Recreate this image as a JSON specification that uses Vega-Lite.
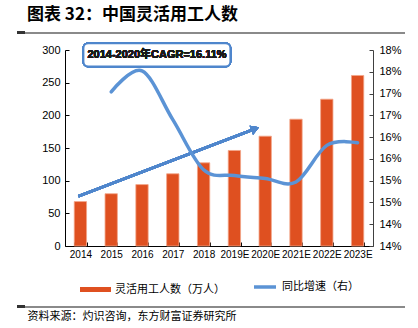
{
  "$schema": "https://vega.github.io/schema/vega-lite/v6.json",
  "width": 308,
  "height": 196,
  "autosize": {"type": "none"},
  "padding": {"left": 65, "top": 50, "right": 45, "bottom": 82},
  "background": "#ffffff",
  "config": {"view": {"stroke": null}, "font": "Liberation Sans", "axis": {"grid": false}},
  "title": {
    "text": "图表 32：中国灵活用工人数",
    "anchor": "start",
    "frame": "group",
    "dx": -38,
    "offset": 8,
    "font": "Noto Sans CJK SC",
    "fontSize": 17,
    "fontWeight": "bold",
    "color": "#000000"
  },
  "data": {
    "values": [
      {"year": "2014", "workers": 68, "growth": null},
      {"year": "2015", "workers": 80, "growth": 17.04},
      {"year": "2016", "workers": 94, "growth": 17.52},
      {"year": "2017", "workers": 110.5, "growth": 16.4},
      {"year": "2018", "workers": 127.3, "growth": 15.25},
      {"year": "2019E", "workers": 146.2, "growth": 15.12},
      {"year": "2020E", "workers": 168.1, "growth": 15.05},
      {"year": "2021E", "workers": 194.1, "growth": 14.97},
      {"year": "2022E", "workers": 224.7, "growth": 15.81},
      {"year": "2023E", "workers": 261, "growth": 15.87}
    ]
  },
  "layer": [
    {
      "layer": [
        {
          "mark": {"type": "bar", "stroke": "#F3A588", "strokeWidth": 0.8},
          "encoding": {
            "x": {
              "field": "year",
              "type": "nominal",
              "sort": null,
              "scale": {"paddingInner": 0.6, "paddingOuter": 0.3},
              "axis": {
                "title": "资料来源：灼识咨询，东方财富证券研究所",
                "titleFont": "Noto Sans CJK SC",
                "titleFontSize": 11,
                "titleFontWeight": "normal",
                "titleColor": "#000000",
                "titleAnchor": "start",
                "titleAlign": "left",
                "titleBaseline": "middle",
                "titleX": -38,
                "titleY": 70,
                "labelAngle": 0,
                "labelFontSize": 10,
                "labelColor": "#000000",
                "labelPadding": 7,
                "tickBand": "extent",
                "tickSize": -4,
                "tickColor": "#000000",
                "domainColor": "#000000"
              }
            },
            "y": {
              "field": "workers",
              "type": "quantitative",
              "scale": {"domain": [0, 300], "nice": false},
              "axis": {
                "title": null,
                "values": [0, 50, 100, 150, 200, 250, 300],
                "tickCount": 7,
                "labelFontSize": 11,
                "labelColor": "#000000",
                "labelPadding": 9,
                "tickSize": -4,
                "tickColor": "#000000",
                "domainColor": "#000000"
              }
            },
            "fill": {
              "datum": "灵活用工人数（万人）",
              "type": "nominal",
              "scale": {"range": ["#DF5020"]},
              "legend": {
                "orient": "none",
                "legendX": 15,
                "legendY": 224,
                "direction": "horizontal",
                "title": null,
                "padding": 0,
                "symbolType": "M-1,-0.16H1V0.16H-1Z",
                "symbolSize": 961,
                "symbolStrokeWidth": 0,
                "symbolOpacity": 1,
                "labelFont": "Noto Sans CJK SC",
                "labelFontSize": 11,
                "labelColor": "#000000",
                "labelOffset": 4
              }
            }
          }
        },
        {
          "mark": {"type": "rule", "color": "#8a8a8a", "strokeWidth": 1.3, "xOffset": -63.4, "x2Offset": 47.4},
          "encoding": {
            "x": {"datum": "2014", "type": "nominal"},
            "x2": {"datum": "2023E"},
            "y": {"datum": 326, "type": "quantitative", "axis": {"title": null, "values": [0, 50, 100, 150, 200, 250, 300]}},
            "y2": {"datum": 326}
          }
        },
        {
          "mark": {"type": "rule", "color": "#333333", "strokeWidth": 2, "xOffset": -63.4, "x2Offset": -55.4},
          "encoding": {
            "x": {"datum": "2014", "type": "nominal"},
            "x2": {"datum": "2014"},
            "y": {"datum": 326.5, "type": "quantitative", "axis": {"title": null, "values": [0, 50, 100, 150, 200, 250, 300]}},
            "y2": {"datum": 326.5}
          }
        },
        {
          "mark": {"type": "rule", "color": "#8a8a8a", "strokeWidth": 1.3, "xOffset": -63.4, "x2Offset": 47.4},
          "encoding": {
            "x": {"datum": "2014", "type": "nominal"},
            "x2": {"datum": "2023E"},
            "y": {"datum": -93, "type": "quantitative", "axis": {"title": null, "values": [0, 50, 100, 150, 200, 250, 300]}},
            "y2": {"datum": -93}
          }
        },
        {
          "mark": {"type": "rule", "color": "#333333", "strokeWidth": 2, "xOffset": -63.4, "x2Offset": -55.4},
          "encoding": {
            "x": {"datum": "2014", "type": "nominal"},
            "x2": {"datum": "2014"},
            "y": {"datum": -92.5, "type": "quantitative", "axis": {"title": null, "values": [0, 50, 100, 150, 200, 250, 300]}},
            "y2": {"datum": -92.5}
          }
        },
        {
          "mark": {"type": "rule", "color": "#4F86CC", "strokeWidth": 2.5, "xOffset": -2, "x2Offset": -10.6},
          "encoding": {
            "x": {"datum": "2014", "type": "nominal"},
            "x2": {"datum": "2020E"},
            "y": {"datum": 76.2, "type": "quantitative", "axis": {"title": null, "values": [0, 50, 100, 150, 200, 250, 300]}},
            "y2": {"datum": 179.1}
          }
        },
        {
          "mark": {"type": "point", "shape": "triangle-right", "filled": true, "color": "#4F86CC", "size": 90, "angle": -21, "opacity": 1, "xOffset": -10},
          "encoding": {
            "x": {"datum": "2020E", "type": "nominal"},
            "y": {"datum": 179.4, "type": "quantitative", "axis": {"title": null, "values": [0, 50, 100, 150, 200, 250, 300]}}
          }
        },
        {
          "mark": {"type": "rect", "fill": "#ffffff", "stroke": "#4F86CC", "strokeWidth": 2, "cornerRadius": 5, "xOffset": 3, "x2Offset": -4},
          "encoding": {
            "x": {"datum": "2014", "type": "nominal"},
            "x2": {"datum": "2019E"},
            "y": {"datum": 310.4, "type": "quantitative", "axis": {"title": null, "values": [0, 50, 100, 150, 200, 250, 300]}},
            "y2": {"datum": 274.8}
          }
        },
        {
          "mark": {"type": "text", "text": "2014-2020年CAGR=16.11%", "font": "Liberation Sans, Noto Sans CJK SC", "fontSize": 11, "fontWeight": "bold", "color": "#1a1a1a", "align": "center", "baseline": "middle", "xOffset": 15},
          "encoding": {
            "x": {"datum": "2016", "type": "nominal"},
            "y": {"datum": 292.5, "type": "quantitative", "axis": {"title": null, "values": [0, 50, 100, 150, 200, 250, 300]}}
          }
        }
      ]
    },
    {
      "mark": {"type": "line", "interpolate": "cardinal", "strokeWidth": 3.5, "strokeCap": "round"},
      "encoding": {
        "x": {"field": "year", "type": "nominal", "sort": null},
        "y": {
          "field": "growth",
          "type": "quantitative",
          "scale": {"domain": [13.5, 18], "nice": false, "zero": false},
          "axis": {
            "orient": "right",
            "title": null,
            "values": [13.5, 14, 14.5, 15, 15.5, 16, 16.5, 17, 17.5, 18],
            "labelExpr": "round(datum.value) + '%'",
            "labelFontSize": 11,
            "labelColor": "#000000",
            "labelPadding": 10,
            "tickSize": -4,
            "tickColor": "#404040",
            "domainColor": "#404040"
          }
        },
        "stroke": {
          "datum": "同比增速（右）",
          "type": "nominal",
          "scale": {"range": ["#5B93D5"]},
          "legend": {
            "orient": "none",
            "legendX": 187,
            "legendY": 224,
            "direction": "horizontal",
            "title": null,
            "padding": 0,
            "symbolType": "stroke",
            "symbolSize": 484,
            "symbolStrokeWidth": 3.5,
            "labelFont": "Noto Sans CJK SC",
            "labelFontSize": 11,
            "labelColor": "#000000",
            "labelOffset": 4
          }
        }
      }
    }
  ],
  "resolve": {"scale": {"y": "independent"}}
}
